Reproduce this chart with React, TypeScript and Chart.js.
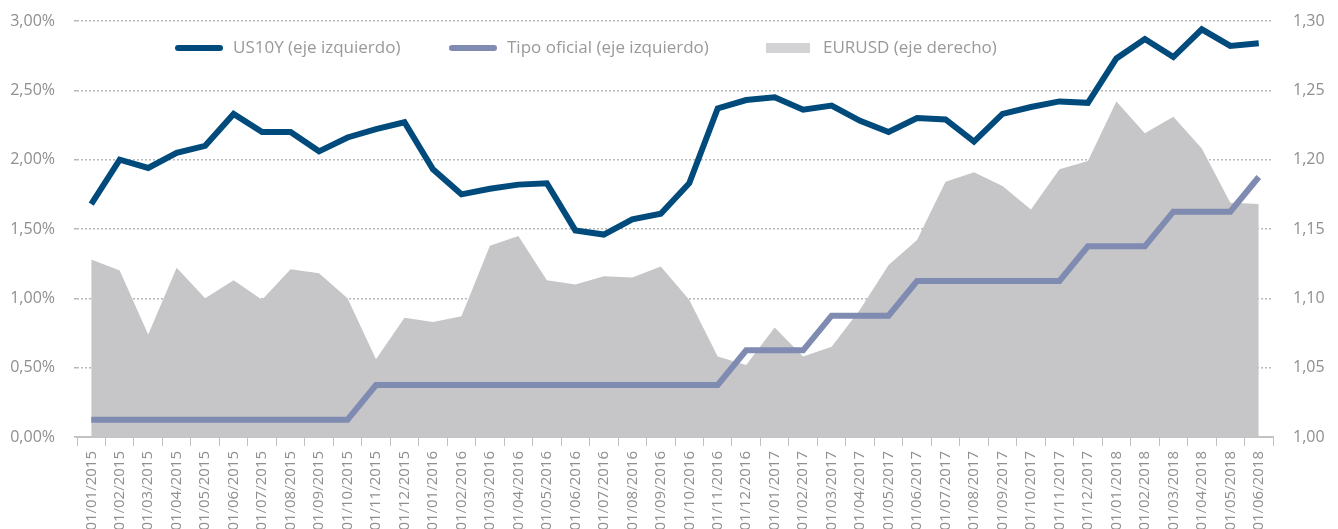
import React, { useEffect, useRef } from "react";
import { Chart, registerables } from "chart.js";

Chart.register(...registerables);

const labels = [
  "01/01/2015", "01/02/2015", "01/03/2015", "01/04/2015", "01/05/2015", "01/06/2015",
  "01/07/2015", "01/08/2015", "01/09/2015", "01/10/2015", "01/11/2015", "01/12/2015",
  "01/01/2016", "01/02/2016", "01/03/2016", "01/04/2016", "01/05/2016", "01/06/2016",
  "01/07/2016", "01/08/2016", "01/09/2016", "01/10/2016", "01/11/2016", "01/12/2016",
  "01/01/2017", "01/02/2017", "01/03/2017", "01/04/2017", "01/05/2017", "01/06/2017",
  "01/07/2017", "01/08/2017", "01/09/2017", "01/10/2017", "01/11/2017", "01/12/2017",
  "01/01/2018", "01/02/2018", "01/03/2018", "01/04/2018", "01/05/2018", "01/06/2018",
];

const us10y = [
  1.68, 2.0, 1.94, 2.05, 2.1, 2.33, 2.2, 2.2, 2.06, 2.16, 2.22, 2.27,
  1.93, 1.75, 1.79, 1.82, 1.83, 1.49, 1.46, 1.57, 1.61, 1.83, 2.37, 2.43,
  2.45, 2.36, 2.39, 2.28, 2.2, 2.3, 2.29, 2.13, 2.33, 2.38, 2.42, 2.41,
  2.73, 2.87, 2.74, 2.94, 2.82, 2.84,
];

const tipoOficial = [
  0.125, 0.125, 0.125, 0.125, 0.125, 0.125, 0.125, 0.125, 0.125, 0.125,
  0.375, 0.375, 0.375, 0.375, 0.375, 0.375, 0.375, 0.375, 0.375, 0.375, 0.375, 0.375, 0.375,
  0.625, 0.625, 0.625,
  0.875, 0.875, 0.875,
  1.125, 1.125, 1.125, 1.125, 1.125, 1.125,
  1.375, 1.375, 1.375,
  1.625, 1.625, 1.625,
  1.875,
];

const eurusd = [
  1.128, 1.12, 1.074, 1.122, 1.1, 1.113, 1.099, 1.121, 1.118, 1.1, 1.056, 1.086,
  1.083, 1.087, 1.138, 1.145, 1.113, 1.11, 1.116, 1.115, 1.123, 1.099, 1.058, 1.052,
  1.079, 1.058, 1.065, 1.092, 1.124, 1.142, 1.184, 1.191, 1.181, 1.164, 1.193, 1.199,
  1.242, 1.219, 1.231, 1.208, 1.169, 1.168,
];

const seriesNames = ["US10Y (eje izquierdo)", "Tipo oficial (eje izquierdo)", "EURUSD (eje derecho)"];

const FONT = "'Open Sans', sans-serif";
const TEXT = "#8f8f8f";
const C_US = "#004a7c";
const C_TIPO = "#7f8bb0";
const C_AREA = "#c6c6c8";
const C_AREA_LEGEND = "#d3d3d5";

const legendPlugin = {
  id: "customLegend",
  afterDraw(chart: any) {
    const ctx = chart.ctx as CanvasRenderingContext2D;
    const y = 48;
    const xs = [175, 449, 766];
    ctx.save();
    ctx.font = `17px ${FONT}`;
    ctx.textBaseline = "middle";
    ctx.textAlign = "left";
    [C_US, C_TIPO].forEach((c, i) => {
      ctx.strokeStyle = c;
      ctx.lineWidth = 6;
      ctx.lineCap = "round";
      ctx.beginPath();
      ctx.moveTo(xs[i] + 3, y);
      ctx.lineTo(xs[i] + 45, y);
      ctx.stroke();
      ctx.fillStyle = "#999999";
      ctx.fillText(seriesNames[i], xs[i] + 58, y);
    });
    ctx.fillStyle = C_AREA_LEGEND;
    ctx.fillRect(xs[2], y - 5, 44, 10);
    ctx.fillStyle = "#999999";
    ctx.fillText(seriesNames[2], xs[2] + 57, y);
    ctx.restore();
  },
};

export default function App() {
  const ref = useRef<HTMLCanvasElement | null>(null);

  useEffect(() => {
    if (!ref.current) return;
    const chart = new Chart(ref.current, {
      type: "line",
      data: {
        labels,
        datasets: [
          {
            label: seriesNames[0],
            data: us10y,
            yAxisID: "y",
            borderColor: C_US,
            backgroundColor: C_US,
            borderWidth: 6,
            pointRadius: 0,
            fill: false,
            tension: 0,
            order: 0,
          },
          {
            label: seriesNames[1],
            data: tipoOficial,
            yAxisID: "y",
            borderColor: C_TIPO,
            backgroundColor: C_TIPO,
            borderWidth: 6,
            pointRadius: 0,
            fill: false,
            tension: 0,
            order: 1,
          },
          {
            label: seriesNames[2],
            data: eurusd,
            yAxisID: "y1",
            borderColor: C_AREA,
            backgroundColor: C_AREA,
            borderWidth: 0,
            pointRadius: 0,
            fill: "start",
            tension: 0,
            order: 2,
          },
        ],
      },
      options: {
        animation: false,
        responsive: false,
        layout: { padding: { top: 21, left: 0, right: 0, bottom: 0 } },
        plugins: {
          legend: { display: false },
          tooltip: { enabled: false },
        },
        scales: {
          x: {
            offset: true,
            grid: {
              drawOnChartArea: false,
              drawTicks: true,
              tickLength: 9,
              color: "#c2c2c2",
              lineWidth: 1,
              offset: true,
            },
            border: { display: true, color: "#c2c2c2", width: 2 },
            ticks: {
              autoSkip: false,
              maxRotation: 90,
              minRotation: 90,
              padding: 5,
              color: TEXT,
              font: { family: FONT, size: 15 },
            },
            afterFit: (s: any) => {
              s.height = 92;
            },
          },
          y: {
            position: "left",
            min: 0,
            max: 3,
            ticks: {
              stepSize: 0.5,
              padding: 19,
              color: TEXT,
              font: { family: FONT, size: 16 },
              callback: (v: any) => Number(v).toFixed(2).replace(".", ",") + "%",
            },
            grid: {
              color: "#b8b8b8",
              lineWidth: 1.5,
              drawTicks: true,
              tickLength: 3,
            },
            border: { display: false, dash: [2, 2] },
            afterFit: (s: any) => {
              s.width = 77;
              s.paddingTop = 0;
              s.paddingBottom = 0;
            },
          },
          y1: {
            position: "right",
            min: 1.0,
            max: 1.3,
            ticks: {
              stepSize: 0.05,
              padding: 20,
              color: TEXT,
              font: { family: FONT, size: 16 },
              callback: (v: any) => Number(v).toFixed(2).replace(".", ","),
            },
            grid: { drawOnChartArea: false, drawTicks: false },
            border: { display: false },
            afterFit: (s: any) => {
              s.width = 65;
              s.paddingTop = 0;
              s.paddingBottom = 0;
            },
          },
        },
      },
      plugins: [legendPlugin],
    });
    return () => chart.destroy();
  }, []);

  return (
    <div style={{ position: "absolute", left: 0, top: 0, width: 1338, height: 529, background: "#fff" }}>
      <canvas ref={ref} width={1338} height={529} style={{ display: "block", width: 1338, height: 529 }} />
    </div>
  );
}
